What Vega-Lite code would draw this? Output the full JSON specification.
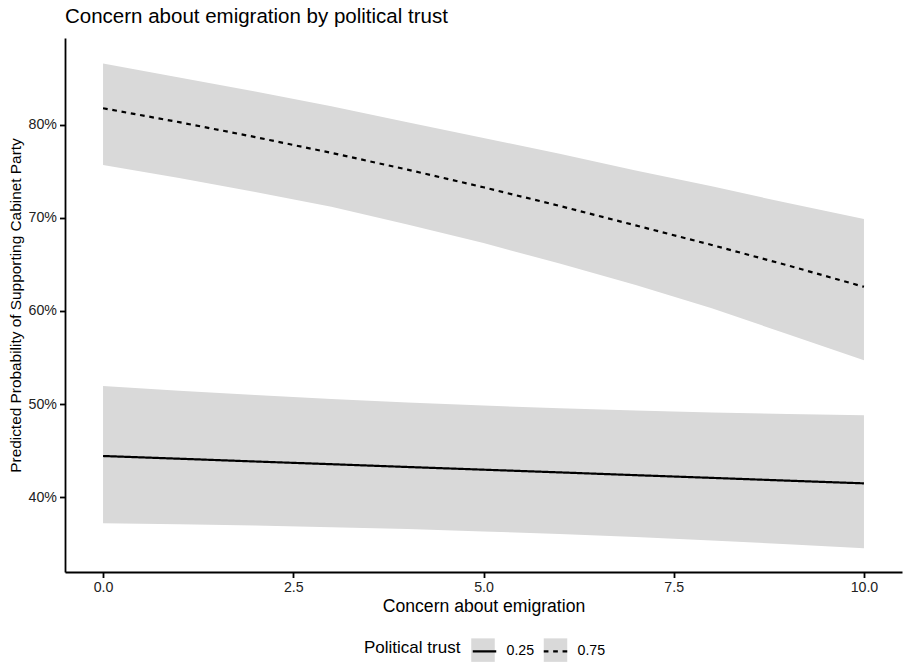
{
  "$schema": "https://vega.github.io/schema/vega-lite/v6.json",
  "autosize": {"type": "none"},
  "padding": {"left": 65, "top": 38, "right": 2, "bottom": 92},
  "width": 837,
  "height": 534,
  "background": "white",
  "title": {
    "text": "Concern about emigration by political trust",
    "anchor": "start",
    "frame": "group",
    "font": "Liberation Sans",
    "fontSize": 20.5,
    "fontWeight": "normal",
    "color": "black",
    "offset": 11
  },
  "config": {
    "view": {"stroke": null},
    "font": "Liberation Sans",
    "axis": {
      "grid": false,
      "domainColor": "black",
      "domainWidth": 1.8,
      "tickColor": "black",
      "tickWidth": 1.8,
      "tickSize": 5.5,
      "labelFont": "Liberation Sans",
      "labelFontSize": 14.2,
      "labelColor": "#222222",
      "labelPadding": 3,
      "titleFont": "Liberation Sans",
      "titleFontSize": 17.6,
      "titleFontWeight": "normal",
      "titleColor": "black"
    },
    "legend": {
      "orient": "none",
      "legendY": 600,
      "direction": "horizontal",
      "titleOrient": "left",
      "titleFont": "Liberation Sans",
      "titleFontSize": 17,
      "titleFontWeight": "normal",
      "titleColor": "black",
      "titleBaseline": "middle",
      "labelFont": "Liberation Sans",
      "labelFontSize": 14.2,
      "labelColor": "black",
      "symbolSize": 552,
      "symbolOffset": 0
    }
  },
  "data": {
    "values": [
      {"x": 0, "trust": "0.25", "fit": 0.4441, "lo": 0.3717, "hi": 0.5194},
      {"x": 1, "trust": "0.25", "fit": 0.4412, "lo": 0.3707, "hi": 0.5143},
      {"x": 2, "trust": "0.25", "fit": 0.4382, "lo": 0.3693, "hi": 0.5097},
      {"x": 3, "trust": "0.25", "fit": 0.4353, "lo": 0.3676, "hi": 0.5055},
      {"x": 4, "trust": "0.25", "fit": 0.4323, "lo": 0.3655, "hi": 0.5017},
      {"x": 5, "trust": "0.25", "fit": 0.4294, "lo": 0.3630, "hi": 0.4983},
      {"x": 6, "trust": "0.25", "fit": 0.4265, "lo": 0.3602, "hi": 0.4954},
      {"x": 7, "trust": "0.25", "fit": 0.4235, "lo": 0.3569, "hi": 0.4929},
      {"x": 8, "trust": "0.25", "fit": 0.4206, "lo": 0.3533, "hi": 0.4908},
      {"x": 9, "trust": "0.25", "fit": 0.4176, "lo": 0.3493, "hi": 0.4892},
      {"x": 10, "trust": "0.25", "fit": 0.4147, "lo": 0.3450, "hi": 0.4880},
      {"x": 0, "trust": "0.75", "fit": 0.818, "lo": 0.757, "hi": 0.866},
      {"x": 1, "trust": "0.75", "fit": 0.803, "lo": 0.743, "hi": 0.851},
      {"x": 2, "trust": "0.75", "fit": 0.787, "lo": 0.728, "hi": 0.836},
      {"x": 3, "trust": "0.75", "fit": 0.770, "lo": 0.712, "hi": 0.820},
      {"x": 4, "trust": "0.75", "fit": 0.752, "lo": 0.693, "hi": 0.803},
      {"x": 5, "trust": "0.75", "fit": 0.733, "lo": 0.673, "hi": 0.786},
      {"x": 6, "trust": "0.75", "fit": 0.713, "lo": 0.651, "hi": 0.769},
      {"x": 7, "trust": "0.75", "fit": 0.692, "lo": 0.628, "hi": 0.751},
      {"x": 8, "trust": "0.75", "fit": 0.671, "lo": 0.603, "hi": 0.734},
      {"x": 9, "trust": "0.75", "fit": 0.649, "lo": 0.575, "hi": 0.716},
      {"x": 10, "trust": "0.75", "fit": 0.626, "lo": 0.547, "hi": 0.699}
    ]
  },
  "encoding": {
    "x": {
      "field": "x",
      "type": "quantitative",
      "scale": {"domain": [-0.5, 10.5], "nice": false, "zero": false},
      "axis": {"title": "Concern about emigration", "values": [0, 2.5, 5, 7.5, 10], "format": ".1f", "titlePadding": 3}
    }
  },
  "layer": [
    {
      "mark": {"type": "area", "opacity": 1},
      "encoding": {
        "y": {
          "field": "lo",
          "type": "quantitative",
          "scale": {"domain": [0.3194, 0.8935], "nice": false, "zero": false},
          "axis": {"title": "Predicted Probability of Supporting Cabinet Party", "values": [0.4, 0.5, 0.6, 0.7, 0.8], "format": ".0%", "titlePadding": 5, "titleFontSize": 15.4}
        },
        "y2": {"field": "hi"},
        "fill": {
          "field": "trust",
          "type": "nominal",
          "scale": {"domain": ["0.25", "0.75"], "range": ["#d9d9d9", "#d9d9d9"]},
          "legend": {
            "title": null,
            "legendX": 406,
            "labelExpr": "''",
            "labelOffset": 0,
            "columnPadding": 48.5,
            "symbolType": "square",
            "symbolStrokeWidth": 0,
            "symbolOpacity": 1
          }
        }
      }
    },
    {
      "mark": {"type": "line", "color": "black", "strokeWidth": 2.2},
      "encoding": {
        "y": {"field": "fit", "type": "quantitative"},
        "strokeDash": {
          "field": "trust",
          "type": "nominal",
          "scale": {"range": [[1, 0], [4.7, 4.7]]},
          "legend": {
            "title": "Political trust",
            "legendX": 299,
            "titlePadding": 10.5,
            "labelOffset": 9,
            "columnPadding": 4,
            "symbolType": "stroke",
            "symbolStrokeColor": "black",
            "symbolStrokeWidth": 2.2
          }
        }
      }
    }
  ]
}
